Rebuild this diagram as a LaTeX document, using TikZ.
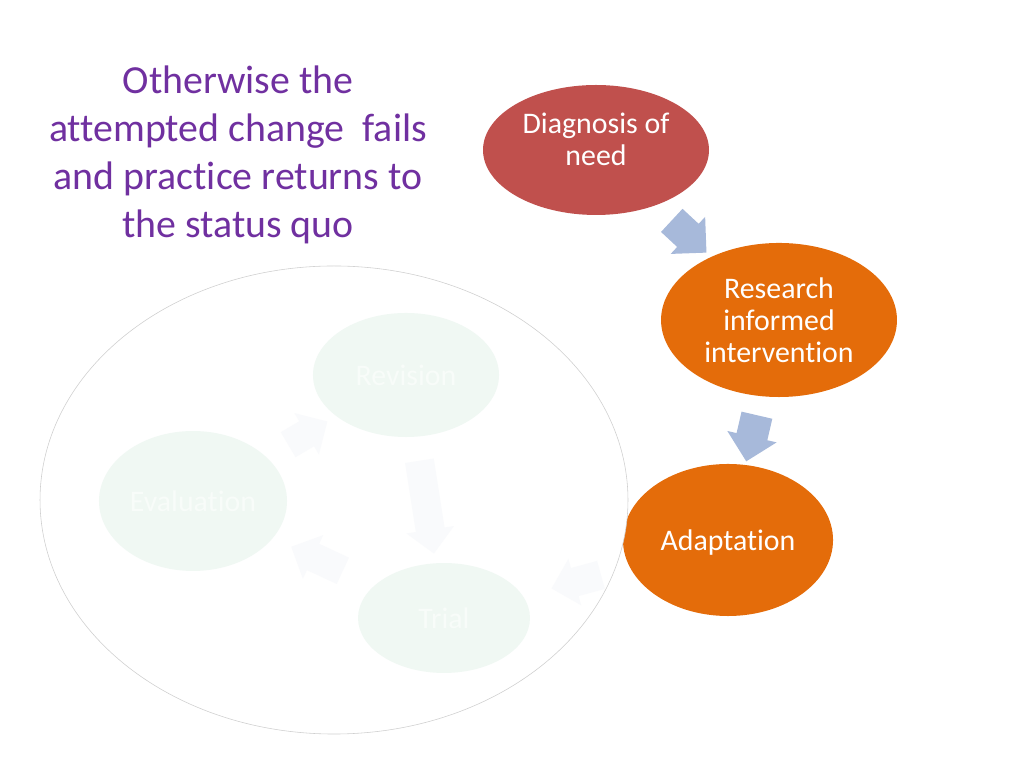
\documentclass[tikz,border=0pt]{standalone}
\usepackage{fontspec}
\setmainfont{Carlito}[Ligatures=NoCommon]
\usetikzlibrary{shapes.geometric,shapes.arrows}
\definecolor{diagred}{HTML}{C0504D}
\definecolor{stageorange}{HTML}{E46C0A}
\definecolor{flowblue}{HTML}{A7B9DA}
\definecolor{titlepurple}{HTML}{7030A0}
\definecolor{fadegreen}{HTML}{F0F8F3}
\definecolor{fadetext}{HTML}{F8FCF9}
\definecolor{fadearrow}{HTML}{F9FAFC}
\definecolor{loopline}{HTML}{CFCFCF}
\tikzset{
  stage/.style={ellipse,inner sep=0pt,text=white,align=center,
    font=\fontsize{21}{22.5}\selectfont},
  faded/.style={stage,fill=fadegreen,text=fadetext},
  flow/.style={single arrow,draw=none,fill=flowblue,inner sep=10.9pt,
    single arrow head extend=6.7pt,minimum height=28pt,sloped,allow upside down},
  fadedflow/.style={flow,fill=fadearrow,inner sep=10pt}
}
\begin{document}
\begin{tikzpicture}[x=0.703125pt,y=0.703125pt]
  \useasboundingbox (0,0) rectangle (1024,768);
  % stages on the right
  \node[stage,fill=diagred,minimum width=158.9pt,minimum height=91.4pt]
    (diag) at (596,618) {};
  \node[stage] at ([yshift=7.5pt]diag.center) {Diagnosis of\\need};
  \node[stage,fill=stageorange,minimum width=165.9pt,minimum height=108.3pt]
    (research) at (779,448) {Research\\informed\\intervention};
  \node[stage,fill=stageorange,minimum width=147.7pt,minimum height=106.9pt]
    (adapt) at (728,228) {};
  % the loop that cuts into adaptation
  \node[ellipse,draw=loopline,line width=0.4pt,fill=white,inner sep=0pt,
    minimum width=413.4pt,minimum height=329.1pt] (loop) at (334,268) {};
  \node[stage] at ([yshift=-1.5pt]adapt.center) {Adaptation};
  % faded cycle inside the loop
  \node[faded,minimum width=130.8pt,minimum height=87.2pt]
    (revision) at (406,393) {Revision};
  \node[faded,minimum width=132.2pt,minimum height=98.4pt]
    (evaluation) at (193,267) {Evaluation};
  \node[faded,minimum width=120.9pt,minimum height=77.3pt]
    (trial) at (444,150) {Trial};
  % arrows
  \path (diag) -- node[flow]{} (research);
  \path (research) -- node[flow]{} (adapt);
  \path (adapt) -- node[fadedflow,minimum height=36pt,xshift=-5pt]{} (trial);
  \path (revision) -- node[fadedflow,minimum height=66pt]{} (trial);
  \path (trial) -- node[fadedflow,minimum height=40pt]{} (evaluation);
  \path (evaluation) -- node[fadedflow,minimum height=32pt]{} (revision);
  % title
  \node[text=titlepurple,align=center,font=\fontsize{28}{33.75}\selectfont]
    (title) at (238,613) {Otherwise the\\attempted change~~fails\\and practice returns to\\the status quo};
\end{tikzpicture}
\end{document}
